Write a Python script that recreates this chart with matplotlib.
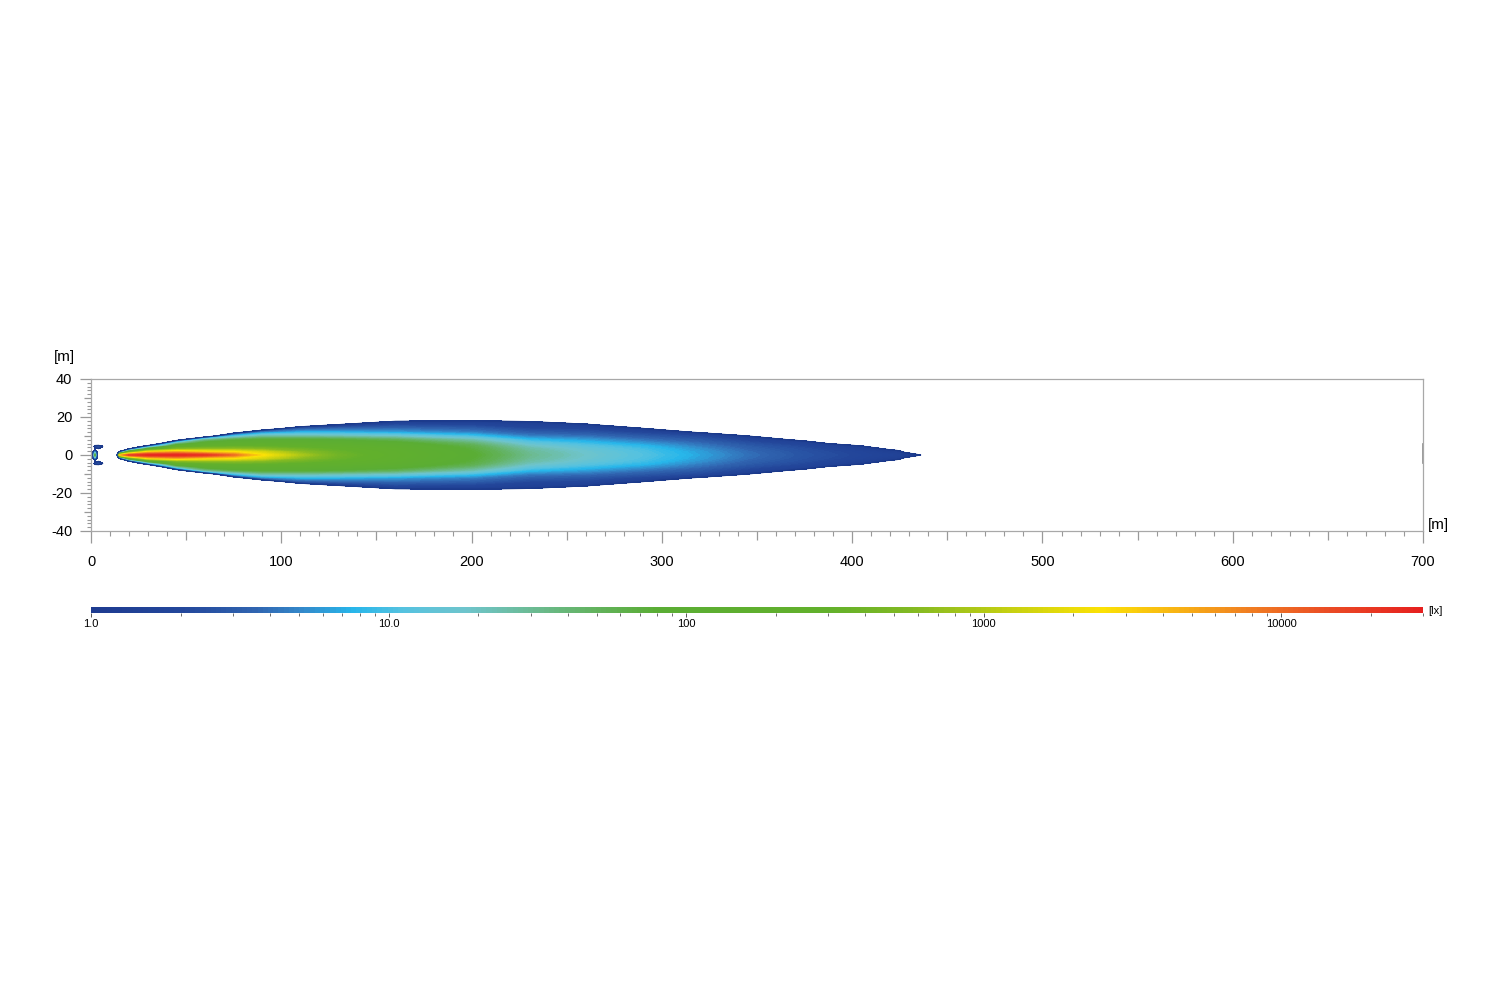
import numpy as np
import matplotlib.pyplot as plt
from matplotlib.colors import LinearSegmentedColormap, LogNorm
from matplotlib.cm import ScalarMappable
from matplotlib.ticker import MultipleLocator, FuncFormatter

plt.rcParams['font.family'] = ['Liberation Sans', 'DejaVu Sans']

# Isolux map of the beam
# distance along the road [m]
distance_m = [0, 2, 4, 6, 10, 13, 15, 20, 30, 45, 60, 75, 90, 110, 130, 160,
              200, 230, 260, 290, 320, 345, 375, 405, 425, 436, 445]
# lateral offset from the beam axis [m] (mirrored for the other side)
lateral_m = [0, 1.5, 3, 4.5, 6, 8, 10, 12, 14, 16, 18, 20]

# illuminance [lx], one row per distance, one column per lateral offset
# (values below 1 lx are not drawn)
lux_table = [
    [0.1, 0.1, 0.1, 0.1, 0.1, 0.1, 0.1, 0.1, 0.1, 0.1, 0.1, 0.1],
    [60, 8, 0.5, 1.8, 0.3, 0.1, 0.1, 0.1, 0.1, 0.1, 0.1, 0.1],
    [0.1, 0.2, 0.8, 2.2, 0.3, 0.1, 0.1, 0.1, 0.1, 0.1, 0.1, 0.1],
    [0.1, 0.1, 0.3, 1.1, 0.1, 0.1, 0.1, 0.1, 0.1, 0.1, 0.1, 0.1],
    [0.1, 0.1, 0.1, 0.1, 0.1, 0.1, 0.1, 0.1, 0.1, 0.1, 0.1, 0.1],
    [0.1, 0.1, 0.1, 0.1, 0.1, 0.1, 0.1, 0.1, 0.1, 0.1, 0.1, 0.1],
    [3000, 2, 0.1, 0.1, 0.1, 0.1, 0.1, 0.1, 0.1, 0.1, 0.1, 0.1],
    [15000, 300, 1.5, 0.1, 0.1, 0.1, 0.1, 0.1, 0.1, 0.1, 0.1, 0.1],
    [25000, 3000, 150, 3, 0.1, 0.1, 0.1, 0.1, 0.1, 0.1, 0.1, 0.1],
    [25000, 5000, 600, 200, 25, 0.5, 0.1, 0.1, 0.1, 0.1, 0.1, 0.1],
    [20000, 3000, 700, 250, 120, 25, 0.3, 0.1, 0.1, 0.1, 0.1, 0.1],
    [9000, 2500, 700, 300, 150, 60, 8, 0.5, 0.1, 0.1, 0.1, 0.1],
    [2500, 1500, 600, 300, 170, 80, 22, 4, 0.3, 0.1, 0.1, 0.1],
    [900, 650, 400, 250, 160, 80, 22, 7, 2.5, 0.3, 0.1, 0.1],
    [400, 350, 280, 200, 140, 70, 20, 7, 3.2, 1.0, 0.3, 0.1],
    [200, 190, 170, 140, 100, 50, 16, 6, 3.5, 2.0, 0.9, 0.1],
    [85, 80, 72, 60, 42, 22, 9, 4.5, 3, 1.8, 1.0, 0.1],
    [32, 30, 26, 20, 14, 8, 4.5, 3, 2, 1.5, 0.9, 0.1],
    [18, 17, 15, 12, 9, 6, 3.8, 2.6, 1.8, 1.2, 0.3, 0.1],
    [11, 10.5, 9.5, 8, 6, 4, 2.8, 1.8, 1.0, 0.2, 0.1, 0.1],
    [6.5, 6.2, 5.5, 4.6, 3.8, 2.8, 2.0, 0.9, 0.1, 0.1, 0.1, 0.1],
    [4, 3.8, 3.4, 3, 2.5, 1.8, 1.0, 0.1, 0.1, 0.1, 0.1, 0.1],
    [2.6, 2.5, 2.3, 2.0, 1.6, 0.8, 0.1, 0.1, 0.1, 0.1, 0.1, 0.1],
    [1.9, 1.8, 1.5, 1.15, 0.5, 0.1, 0.1, 0.1, 0.1, 0.1, 0.1, 0.1],
    [1.5, 1.25, 0.8, 0.2, 0.1, 0.1, 0.1, 0.1, 0.1, 0.1, 0.1, 0.1],
    [1.0, 0.3, 0.1, 0.1, 0.1, 0.1, 0.1, 0.1, 0.1, 0.1, 0.1, 0.1],
    [0.1, 0.1, 0.1, 0.1, 0.1, 0.1, 0.1, 0.1, 0.1, 0.1, 0.1, 0.1],
]

lux_min, lux_max = 1.0, 30000.0
cbar_ticks = [1, 10, 100, 1000, 10000]
cbar_labels = ['1.0', '10.0', '100', '1000', '10000']

# colour scale anchors (lux -> colour)
scale_lux = [1, 2, 3.5, 5, 7.5, 11, 18, 30, 50, 80, 300, 600, 1200, 2500,
             4500, 8000, 15000, 30000]
scale_col = ['#1e3b90', '#23479b', '#3064b0', '#3387c9', '#27b6ea', '#55c2e0',
             '#6ec4cc', '#6cbb94', '#62b25c', '#5aad34', '#62b02b', '#85ba22',
             '#c3cf12', '#fbe205', '#f8b414', '#f07d22', '#ea4a25', '#e6201f']

L = np.log10(lux_max)
anchors = [(np.log10(v) / L, c) for v, c in zip(scale_lux, scale_col)]
cmap = LinearSegmentedColormap.from_list('lux', anchors)

# mirror the half profile to both sides of the axis
lat = np.array(lateral_m)
y_full = np.concatenate([-lat[::-1], lat[1:]])
Z = np.log10(np.array(lux_table)).T          # (lateral, distance)
Z_full = np.vstack([Z[::-1], Z[1:]])

fig = plt.figure(figsize=(15, 10), dpi=100)
ax = fig.add_axes([0.0607, 0.469, 0.888, 0.152])

levels = np.linspace(0, L, 160)
cs = ax.contourf(distance_m, y_full, Z_full, levels=levels, cmap=cmap,
                 vmin=0, vmax=L)
cs.set_edgecolor('face')
cs.set_linewidth(0.3)
ax.contour(distance_m, y_full, Z_full, levels=[0.0], colors='#1b3a8a',
           linewidths=0.8)

ax.set_xlim(0, 700)
ax.set_ylim(-40, 40)

grey = '#a8a8a8'
for s in ax.spines.values():
    s.set_color(grey)
    s.set_linewidth(0.9)
ax.plot([700, 700], [-4, 6], color='#8a8a8a', lw=1.2, clip_on=False)

# x ticks: 100 long, 50 medium, 10 short
ax.xaxis.set_major_locator(MultipleLocator(50))
ax.xaxis.set_minor_locator(MultipleLocator(10))
ax.xaxis.set_major_formatter(FuncFormatter(
    lambda v, p: f'{v:.0f}' if round(v) % 100 == 0 else ''))
ax.yaxis.set_major_locator(MultipleLocator(10))
ax.yaxis.set_minor_locator(MultipleLocator(2))
ax.yaxis.set_major_formatter(FuncFormatter(
    lambda v, p: f'{v:.0f}' if round(v) % 20 == 0 else ''))

ax.tick_params(axis='x', which='major', length=8.6, width=0.9, color='#999999',
               labelsize=10.5, pad=8.5, labelcolor='black')
ax.tick_params(axis='x', which='minor', length=3.6, width=0.8, color='#999999')
ax.tick_params(axis='y', which='major', length=7.9, width=0.9, color='#999999',
               labelsize=10.5, pad=5.5, labelcolor='black')
ax.tick_params(axis='y', which='minor', length=2.9, width=0.8, color='#999999')

for v, t in zip(ax.get_xticks(), ax.xaxis.get_major_ticks()):
    if round(v) % 100 != 0:
        t.tick1line.set_markersize(6.5)
for v, t in zip(ax.get_yticks(), ax.yaxis.get_major_ticks()):
    if round(v) % 20 != 0:
        t.tick1line.set_markersize(5)

fig.text(0.036, 0.643, '[m]', fontsize=11, va='center')
fig.text(0.952, 0.475, '[m]', fontsize=11, va='center')

# colour bar
cax = fig.add_axes([0.0607, 0.387, 0.888, 0.0065])
sm = ScalarMappable(norm=LogNorm(lux_min, lux_max), cmap=cmap)
cb = fig.colorbar(sm, cax=cax, orientation='horizontal')
cb.outline.set_visible(False)
cb.set_ticks(cbar_ticks, labels=cbar_labels)
cb.minorticks_on()
cax.tick_params(which='major', length=3.2, width=0.7, color='#555555',
                labelsize=8, pad=1.0)
cax.tick_params(which='minor', length=2, width=0.6, color='#555555')
fig.text(0.952, 0.389, '[lx]', fontsize=8, va='center')

fig.savefig('out.png', dpi=100)
